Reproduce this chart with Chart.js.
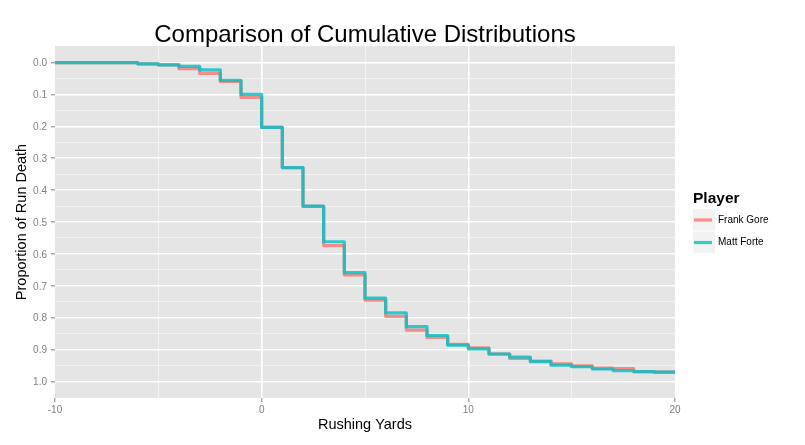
<!DOCTYPE html>
<html>
<head>
<meta charset="utf-8">
<title>Comparison of Cumulative Distributions</title>
<script src="https://cdn.jsdelivr.net/npm/chart.js"></script>
<style>
  html, body { margin: 0; padding: 0; background: #fff; }
</style>
</head>
<body>
<canvas id="cdf" width="805" height="445"></canvas>
<script>

/* DATA */
const yards = [-10, -9, -8, -7, -6, -5, -4, -3, -2, -1, 0, 1, 2, 3, 4, 5, 6, 7, 8, 9, 10,
               11, 12, 13, 14, 15, 16, 17, 18, 19, 20];
const frankGore = [0, 0, 0, 0, 0.004, 0.0075, 0.019, 0.034, 0.059, 0.109, 0.2035,
                   0.330, 0.451, 0.574, 0.666, 0.745, 0.796, 0.839, 0.862, 0.884, 0.895,
                   0.914, 0.928, 0.936, 0.945, 0.951, 0.958, 0.960, 0.969, 0.971, 0.977];
const mattForte = [0, 0, 0, 0, 0.004, 0.0075, 0.012, 0.023, 0.056, 0.100, 0.2035,
                   0.329, 0.450, 0.562, 0.659, 0.739, 0.785, 0.828, 0.856, 0.886, 0.898,
                   0.914, 0.924, 0.938, 0.949, 0.954, 0.961, 0.966, 0.969, 0.971, 0.974];

const players = ["Frank Gore", "Matt Forte"];
const playerColors = ["rgba(248,118,109,0.8)", "rgba(0,191,196,0.8)"];

/* TICKS */
const xTickValues = [-10, 0, 10, 20];
const xTickLabels = ["-10", "0", "10", "20"];
const xMinorValues = [-5, 5, 15];
const yTickValues = [0, 0.1, 0.2, 0.3, 0.4, 0.5, 0.6, 0.7, 0.8, 0.9, 1.0];
const yTickLabels = ["0.0", "0.1", "0.2", "0.3", "0.4", "0.5", "0.6", "0.7", "0.8", "0.9", "1.0"];
const yMinorValues = [0.05, 0.15, 0.25, 0.35, 0.45, 0.55, 0.65, 0.75, 0.85, 0.95];

const FONT = "'Liberation Sans', Arial, sans-serif";

function majorIndex(list, v) {
    return list.findIndex(t => Math.abs(t - v) < 1e-9);
}

/* PANEL BG, TITLE, LEGEND */
const ggDecor = {
    id: "ggDecor",
    beforeDraw(chart) {
        const { ctx, chartArea: a } = chart;
        ctx.save();
        ctx.fillStyle = "#E5E5E5";
        ctx.fillRect(a.left, a.top, a.right - a.left, a.bottom - a.top);
        ctx.restore();
    },
    afterDraw(chart) {
        const { ctx, chartArea: a } = chart;
        ctx.save();

        ctx.fillStyle = "#000";
        ctx.font = "24px " + FONT;
        ctx.textAlign = "center";
        ctx.textBaseline = "alphabetic";
        ctx.fillText("Comparison of Cumulative Distributions", (a.left + a.right) / 2, 42);

        ctx.textAlign = "left";
        ctx.font = "bold 15.5px " + FONT;
        ctx.fillText("Player", 693, 203);

        players.forEach((name, i) => {
            const top = 209 + i * 22.5;
            ctx.fillStyle = "#F2F2F2";
            ctx.fillRect(693, top, 22, 21.5);
            ctx.strokeStyle = playerColors[i];
            ctx.lineWidth = 3.2;
            ctx.beginPath();
            ctx.moveTo(694, top + 11);
            ctx.lineTo(712, top + 11);
            ctx.stroke();
            ctx.fillStyle = "#000";
            ctx.font = "10px " + FONT;
            ctx.textBaseline = "middle";
            ctx.fillText(name, 718, top + 11);
            ctx.textBaseline = "alphabetic";
        });

        ctx.restore();
    }
};

function toPoints(values) {
    return yards.map((x, i) => ({ x: x, y: values[i] }));
}

new Chart(document.getElementById("cdf"), {
    type: "line",
    data: {
        datasets: [
            {
                label: players[0],
                data: toPoints(frankGore),
                borderColor: playerColors[0],
                borderWidth: 3.2,
                stepped: "before",
                pointRadius: 0,
                borderJoinStyle: "round",
                fill: false,
                order: 1
            },
            {
                label: players[1],
                data: toPoints(mattForte),
                borderColor: playerColors[1],
                borderWidth: 3.2,
                stepped: "before",
                pointRadius: 0,
                borderJoinStyle: "round",
                fill: false,
                order: 0
            }
        ]
    },
    options: {
        responsive: false,
        animation: false,
        devicePixelRatio: 1,
        layout: { padding: { left: 0, top: 46, right: 130, bottom: 0 } },
        plugins: {
            legend: { display: false },
            title: { display: false },
            tooltip: { enabled: false }
        },
        scales: {
            x: {
                type: "linear",
                min: -10,
                max: 20,
                afterBuildTicks: scale => {
                    scale.ticks = [...xTickValues, ...xMinorValues]
                        .sort((p, q) => p - q).map(v => ({ value: v }));
                },
                afterFit: scale => { scale.height = 47; },
                border: { display: false },
                grid: {
                    drawTicks: true,
                    tickLength: 4,
                    tickWidth: 1,
                    tickColor: c => majorIndex(xTickValues, c.tick.value) >= 0 ? "#7F7F7F" : "rgba(0,0,0,0)",
                    color: c => {
                        const v = c.tick.value;
                        if (v === -10 || v === 20) return "rgba(0,0,0,0)";
                        return majorIndex(xTickValues, v) >= 0 ? "#FFFFFF" : "#F2F2F2";
                    },
                    lineWidth: c => majorIndex(xTickValues, c.tick.value) >= 0 ? 1.6 : 1
                },
                ticks: {
                    autoSkip: false,
                    maxRotation: 0,
                    padding: 2,
                    color: "#7F7F7F",
                    font: { family: FONT, size: 10 },
                    callback: v => {
                        const i = majorIndex(xTickValues, v);
                        return i >= 0 ? xTickLabels[i] : "";
                    }
                },
                title: {
                    display: true,
                    text: "Rushing Yards",
                    color: "#000",
                    font: { family: FONT, size: 14.5 },
                    padding: { top: 0, bottom: 11 }
                }
            },
            y: {
                type: "linear",
                reverse: true,
                min: -0.052,
                max: 1.052,
                afterBuildTicks: scale => {
                    scale.ticks = [...yTickValues, ...yMinorValues]
                        .sort((p, q) => p - q).map(v => ({ value: v }));
                },
                afterFit: scale => { scale.width = 55; },
                border: { display: false },
                grid: {
                    drawTicks: true,
                    tickLength: 4,
                    tickWidth: 1,
                    tickColor: c => majorIndex(yTickValues, c.tick.value) >= 0 ? "#7F7F7F" : "rgba(0,0,0,0)",
                    color: c => majorIndex(yTickValues, c.tick.value) >= 0 ? "#FFFFFF" : "#F2F2F2",
                    lineWidth: c => majorIndex(yTickValues, c.tick.value) >= 0 ? 1.6 : 1
                },
                ticks: {
                    autoSkip: false,
                    padding: 4,
                    labelOffset: 1,
                    color: "#7F7F7F",
                    font: { family: FONT, size: 10 },
                    callback: v => {
                        const i = majorIndex(yTickValues, v);
                        return i >= 0 ? yTickLabels[i] : "";
                    }
                },
                title: {
                    display: true,
                    text: "Proportion of Run Death",
                    color: "#000",
                    font: { family: FONT, size: 14.5 },
                    padding: { top: 13, bottom: 0 }
                }
            }
        }
    },
    plugins: [ggDecor]
});

</script>
</body>
</html>
